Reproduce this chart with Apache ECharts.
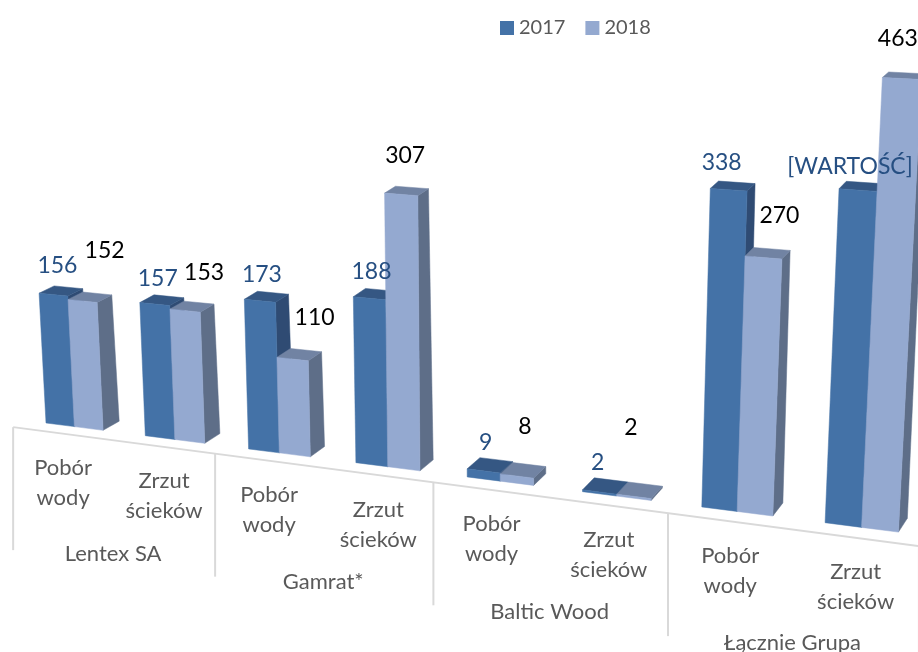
<!DOCTYPE html>
<html lang="pl">
<head>
    <meta charset="UTF-8">
    <title>Pobór wody i zrzut ścieków</title>
    <script src="https://cdn.jsdelivr.net/npm/echarts@6/dist/echarts.min.js"></script>
    <style>
        html, body { margin: 0; padding: 0; background: #fff; overflow: hidden; }
        #chart { width: 918px; height: 652px; }
    </style>
</head>
<body>
    <div id="chart"></div>
    <script>
        // dane
        const groups = ['Lentex SA', 'Gamrat*', 'Baltic Wood', 'Łącznie Grupa'];
        const categories = ['Pobór\nwody', 'Zrzut\nścieków', 'Pobór\nwody', 'Zrzut\nścieków',
            'Pobór\nwody', 'Zrzut\nścieków', 'Pobór\nwody', 'Zrzut\nścieków'];
        const values2017 = [156, 157, 173, 188, 9, 2, 338, 347];
        const values2018 = [152, 153, 110, 307, 8, 2, 270, 463];
        const labels2017 = ['156', '157', '173', '188', '9', '2', '338', '[WARTOŚĆ]'];
        const labels2018 = ['152', '153', '110', '307', '8', '2', '270', '463'];

        // przesunięcia etykiet względem szczytu słupka
        const nudge2017 = [[4, -29], [3, -26], [2, -26], [2, -27], [2, -28], [-2, -29], [-7, -27], [-8, -23]];
        const nudge2018 = [[22, -50], [19, -38], [22, -42], [4, -39], [8, -49], [-3, -69], [16, -42], [-4, -40]];

        const FONT = 'Lato, "Open Sans", sans-serif';
        const BAR = 0.29;
        const X_MIN = -1, X_MAX = 9, PLOT_W = 918;
        const AXIS_START = -0.34, SLOT = 1.01;

        // rzut perspektywiczny: wspolrzedne siatki -> ekran
        function project(api, t, value, depth) {
            const p = api.coord([t, value]);
            const p0 = api.coord([t, 0]);
            const u = X_MIN + p[0] / PLOT_W * (X_MAX - X_MIN);
            const bx = 46 + 97.3 * u + 2 * u * u;
            const by = 417.1 + 0.128 * bx;
            const v = p0[1] - p[1];
            const h = v * (0.82 + 0.00016 * bx + 0.00003 * v);
            const lean = (bx - 483) * 0.000122 * h;
            const dx = depth * (17 - 0.009 * bx) * (1 - h / 1400);
            const dy = -depth * (8.5 + 0.006 * bx) * (1 - h / 750);
            return [bx + lean + dx, by - h + dy];
        }

        function axisPoint(api, t, drop) {
            const p = project(api, t, 0, 0);
            return [p[0], 425.4 + 0.1313 * p[0] + drop];
        }

        function polygon(points, fill) {
            return { type: 'polygon', shape: { points: points }, style: { fill: fill, stroke: fill, lineWidth: 0.5 } };
        }

        function barRenderer(offset, colors) {
            return function (params, api) {
                const i = api.value(0), v = api.value(1);
                const a = i + offset, b = a + BAR;
                const fl0 = project(api, a, 0, 0), fr0 = project(api, b, 0, 0);
                const fl1 = project(api, a, v, 0), fr1 = project(api, b, v, 0);
                const bl1 = project(api, a, v, 1), br1 = project(api, b, v, 1);
                const br0 = project(api, b, 0, 1);
                return {
                    type: 'group',
                    children: [
                        polygon([fr0, fr1, br1, br0], colors.side),
                        polygon([fl1, fr1, br1, bl1], colors.top),
                        polygon([fl0, fr0, fr1, fl1], colors.front)
                    ]
                };
            };
        }

        // etykiety osobno, zeby lezaly nad wszystkimi slupkami
        function labelSeries(values, offset, labels, nudges, color) {
            return {
                name: 'etykiety',
                type: 'custom',
                silent: true,
                clip: false,
                z: 10,
                data: seriesData(values),
                renderItem: function (params, api) {
                    const mid = project(api, api.value(0) + offset + BAR / 2, api.value(1), 0);
                    const n = nudges[params.dataIndex];
                    return {
                        type: 'text',
                        style: {
                            x: mid[0] + n[0], y: mid[1] + n[1],
                            text: labels[params.dataIndex],
                            fill: color, fontSize: 23, fontFamily: FONT,
                            align: 'center', verticalAlign: 'middle'
                        }
                    };
                }
            };
        }

        function seriesData(values) {
            return values.map((v, i) => [i, v]);
        }

        const myChart = echarts.init(document.getElementById('chart'));

        myChart.setOption({
            animation: false,
            legend: {
                data: ['2017', '2018'],
                left: 495, top: 13,
                icon: 'rect', itemWidth: 14, itemHeight: 14, itemGap: 20,
                textStyle: { color: '#595959', fontSize: 20, fontFamily: FONT }
            },
            grid: { left: 0, width: PLOT_W, top: 30, height: 500 },
            xAxis: { type: 'value', min: X_MIN, max: X_MAX, show: false },
            yAxis: { type: 'value', min: 0, max: 500, show: false },
            series: [
                {
                    // os i podzialka grup
                    name: 'os',
                    type: 'custom',
                    silent: true,
                    clip: false,
                    z: 1,
                    data: [0, 1, 2, 3, 4].map(g => [g, 0]),
                    renderItem: function (params, api) {
                        const t = AXIS_START + 2 * SLOT * api.value(0);
                        const top = axisPoint(api, t, 0), bottom = axisPoint(api, t, 123);
                        const children = [{
                            type: 'line',
                            shape: { x1: top[0], y1: top[1], x2: bottom[0], y2: bottom[1] },
                            style: { stroke: '#d9d9d9', lineWidth: 2 }
                        }];
                        if (params.dataIndex === 0) {
                            const end = axisPoint(api, AXIS_START + 8 * SLOT, 0);
                            children.push({
                                type: 'line',
                                shape: { x1: top[0], y1: top[1], x2: end[0], y2: end[1] },
                                style: { stroke: '#d9d9d9', lineWidth: 2 }
                            });
                        }
                        return { type: 'group', children: children };
                    }
                },
                {
                    name: 'kategorie',
                    type: 'custom',
                    silent: true,
                    clip: false,
                    z: 1,
                    data: categories.map((c, i) => [i, 0]),
                    renderItem: function (params, api) {
                        const p = axisPoint(api, AXIS_START + SLOT * (api.value(0) + 0.5), 49.5);
                        return {
                            type: 'text',
                            style: {
                                x: p[0] + 1, y: p[1],
                                text: categories[params.dataIndex],
                                fill: '#595959', fontSize: 22, lineHeight: 30, fontFamily: FONT,
                                align: 'center', verticalAlign: 'middle'
                            }
                        };
                    }
                },
                {
                    name: 'grupy',
                    type: 'custom',
                    silent: true,
                    clip: false,
                    z: 1,
                    data: groups.map((g, i) => [i, 0]),
                    renderItem: function (params, api) {
                        const p = axisPoint(api, AXIS_START + 2 * SLOT * (api.value(0) + 0.5), 114);
                        return {
                            type: 'text',
                            style: {
                                x: p[0] + 1, y: p[1],
                                text: groups[params.dataIndex],
                                fill: '#595959', fontSize: 22, fontFamily: FONT,
                                align: 'center', verticalAlign: 'middle'
                            }
                        };
                    }
                },
                {
                    name: '2017',
                    type: 'custom',
                    silent: true,
                    clip: false,
                    z: 2,
                    itemStyle: { color: '#4472a7' },
                    data: seriesData(values2017),
                    renderItem: barRenderer(0, { front: '#4472a7', top: '#355783', side: '#2f4b73' })
                },
                {
                    name: '2018',
                    type: 'custom',
                    silent: true,
                    clip: false,
                    z: 3,
                    itemStyle: { color: '#94a9d0' },
                    data: seriesData(values2018),
                    renderItem: barRenderer(BAR, { front: '#94a9d0', top: '#7183a3', side: '#5e6e88' })
                },
                labelSeries(values2017, 0, labels2017, nudge2017, '#264f82'),
                labelSeries(values2018, BAR, labels2018, nudge2018, '#000000')
            ]
        });
    </script>
</body>
</html>
